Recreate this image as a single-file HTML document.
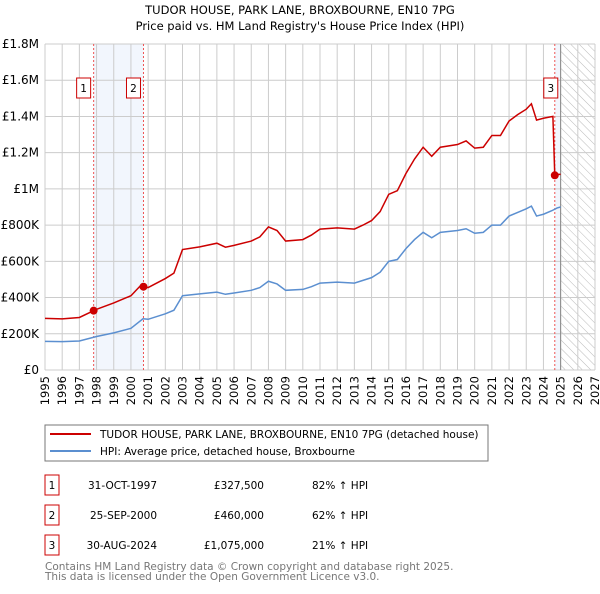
<!DOCTYPE html>
<html><head><meta charset="utf-8"><style>
body{margin:0;background:#fff;font-family:"DejaVu Sans","Liberation Sans",sans-serif;}
svg text{font-family:"DejaVu Sans","Liberation Sans",sans-serif;}
</style></head><body>
<svg id="chart" width="600" height="590" xmlns="http://www.w3.org/2000/svg">
<defs><pattern id="hatch" width="6" height="6" patternUnits="userSpaceOnUse" patternTransform="rotate(-45)"><line x1="0" y1="0" x2="0" y2="6" stroke="#bbb" stroke-width="1"/></pattern></defs>
<text x="300" y="14" text-anchor="middle" font-size="11.5">TUDOR HOUSE, PARK LANE, BROXBOURNE, EN10 7PG</text>
<text x="300" y="30" text-anchor="middle" font-size="11.5">Price paid vs. HM Land Registry's House Price Index (HPI)</text>
<g id="grid"></g><g id="marks"></g><g id="axes"></g>
<rect x="45" y="425" width="443" height="36" fill="#fff" stroke="#777"/>
<line x1="50" y1="434" x2="91" y2="434" stroke="#cc0000" stroke-width="2"/>
<text x="100" y="438" font-size="10.5">TUDOR HOUSE, PARK LANE, BROXBOURNE, EN10 7PG (detached house)</text>
<line x1="50" y1="451" x2="91" y2="451" stroke="#5b8fd0" stroke-width="2"/>
<text x="100" y="455" font-size="10.5">HPI: Average price, detached house, Broxbourne</text>
<g id="table" font-size="10.5"></g>
<text x="45" y="570" font-size="10.5" fill="#777">Contains HM Land Registry data © Crown copyright and database right 2025.</text>
<text x="45" y="580" font-size="10.5" fill="#777">This data is licensed under the Open Government Licence v3.0.</text>
</svg>
<script>
const hpiDates=[1995,1996,1997,1998,1999,2000,2000.7,2001,2002,2002.5,2003,2004,2005,2005.5,2006,2007,2007.5,2008,2008.5,2009,2010,2010.5,2011,2012,2013,2013.5,2014,2014.5,2015,2015.5,2016,2016.5,2017,2017.5,2018,2019,2019.5,2020,2020.5,2021,2021.5,2022,2022.5,2023,2023.3,2023.6,2024,2024.5,2024.8,2025];
const hpiValues=[158,157,160,185,205,230,283,280,310,330,410,420,430,418,425,440,455,490,475,440,445,460,480,485,480,495,510,540,600,610,670,720,760,730,760,770,780,755,760,800,800,850,870,890,905,850,860,880,895,900];
const redDates=[1995,1996,1997,1997.83,1998,1999,2000,2000.6,2000.73,2001,2002,2002.5,2003,2004,2005,2005.5,2006,2007,2007.5,2008,2008.5,2009,2010,2010.5,2011,2012,2013,2013.5,2014,2014.5,2015,2015.5,2016,2016.5,2017,2017.5,2018,2019,2019.5,2020,2020.5,2021,2021.5,2022,2022.5,2023,2023.3,2023.6,2024,2024.55,2024.66,2024.8,2025];
const redValues=[285,282,290,327.5,335,370,410,470,460,455,505,535,665,680,700,678,688,712,735,790,770,712,720,745,778,785,778,800,825,875,970,990,1085,1165,1230,1180,1230,1245,1265,1225,1230,1295,1295,1375,1410,1440,1470,1380,1390,1400,1075,1080,1080];
const saleDates=[1997.83,2000.73,2024.66];
const salePrices=[327.5,460,1075];
const saleLabels=["1","2","3"];
const saleDateText=["31-OCT-1997","25-SEP-2000","30-AUG-2024"];
const salePriceText=["£327,500","£460,000","£1,075,000"];
const saleHpiText=["82% ↑ HPI","62% ↑ HPI","21% ↑ HPI"];
const yTicks=[0,200,400,600,800,1000,1200,1400,1600,1800];
const yTickLabels=["£0","£200K","£400K","£600K","£800K","£1M","£1.2M","£1.4M","£1.6M","£1.8M"];
const xTicks=[1995,1996,1997,1998,1999,2000,2001,2002,2003,2004,2005,2006,2007,2008,2009,2010,2011,2012,2013,2014,2015,2016,2017,2018,2019,2020,2021,2022,2023,2024,2025,2026,2027];

const NS="http://www.w3.org/2000/svg";
const X0=45,X1=595,Y0=370,Y1=44;
const xs=d=>X0+(d-1995)/32*(X1-X0);
const ys=v=>Y0-v/1800*(Y0-Y1);
function mk(tag,attrs,parent){const e=document.createElementNS(NS,tag);for(const k in attrs)e.setAttribute(k,attrs[k]);parent.appendChild(e);return e;}
const grid=document.getElementById('grid'),marks=document.getElementById('marks'),axes=document.getElementById('axes'),table=document.getElementById('table');

let r=mk('rect',{x:xs(saleDates[0]),y:Y1,width:xs(saleDates[1])-xs(saleDates[0]),height:Y0-Y1,fill:'#f2f6fd'},grid);


r=mk('rect',{x:xs(saleDates[2]),y:Y1,width:xs(2025)-xs(saleDates[2]),height:Y0-Y1,fill:'#f2f6fd'},grid);


r=mk('rect',{x:xs(2025),y:Y1,width:X1-xs(2025),height:Y0-Y1,fill:'url(#hatch)'},grid);


xTicks.forEach(t=>{const l=mk('line',{x1:xs(t),x2:xs(t),y1:Y1,y2:Y0,stroke:'#ccc'},grid);


const tx=mk('text',{x:0,y:0,'font-size':11.5,'text-anchor':'end',transform:`translate(${xs(t)+4},${Y0+6}) rotate(-90)`},axes);tx.textContent=t;

});
yTicks.forEach((t,i)=>{const l=mk('line',{x1:X0,x2:X1,y1:ys(t),y2:ys(t),stroke:'#ccc'},grid);


const tx=mk('text',{x:X0-6,y:ys(t)+4,'font-size':12,'text-anchor':'end'},axes);tx.textContent=yTickLabels[i];

});
let l=mk('line',{x1:xs(2025),x2:xs(2025),y1:Y1,y2:Y0,stroke:'#888'},grid);


saleDates.forEach((d,i)=>{const v=mk('line',{x1:xs(d),x2:xs(d),y1:Y1,y2:Y0,stroke:'#e55','stroke-dasharray':'2,2'},grid);


const bx=xs(d)-(i==2?4:10);const b=mk('rect',{x:bx-7,y:78,width:14,height:20,fill:'#fff',stroke:'#c00'},grid);


const t=mk('text',{x:bx,y:92,'font-size':10.5,'text-anchor':'middle'},grid);t.textContent=saleLabels[i];

});
let p=mk('polyline',{points:hpiDates.map((d,i)=>xs(d)+','+ys(hpiValues[i])).join(' '),fill:'none',stroke:'#5b8fd0','stroke-width':1.5},marks);


p=mk('polyline',{points:redDates.map((d,i)=>xs(d)+','+ys(redValues[i])).join(' '),fill:'none',stroke:'#cc0000','stroke-width':1.5},marks);


saleDates.forEach((d,i)=>{const c=mk('circle',{cx:xs(d),cy:ys(salePrices[i]),r:4,fill:'#cc0000'},marks);

});
saleDates.forEach((d,i)=>{const y=475+i*30;
const b=mk('rect',{x:45,y:y,width:14,height:20,fill:'#fff',stroke:'#c00'},table);


const n=mk('text',{x:52,y:y+14,'text-anchor':'middle'},table);n.textContent=saleLabels[i];


const a=mk('text',{x:157,y:y+14,'text-anchor':'end'},table);a.textContent=saleDateText[i];


const b2=mk('text',{x:264,y:y+14,'text-anchor':'end'},table);b2.textContent=salePriceText[i];


const c=mk('text',{x:312,y:y+14},table);c.textContent=saleHpiText[i];

});
</script>
</body></html>
